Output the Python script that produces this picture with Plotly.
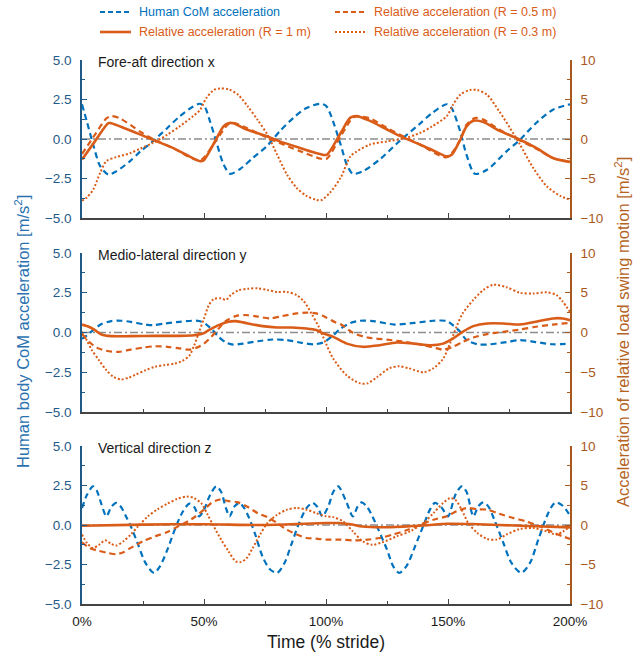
import plotly.graph_objects as go

# ---------------- data (time in % stride) ----------------
# Fore-aft direction x
x_com_x = [0, 2, 4.6, 7.4, 10.8, 14, 19.7, 24, 29, 35, 40, 45.6, 48.4, 50.4, 52.5, 55, 58, 60.7, 64.8, 70,
           75.7, 81, 86.6, 92, 97.5, 100, 102, 106, 108.5, 111, 115, 122, 130, 138, 143.5, 149.5, 151.5, 155,
           157.6, 161, 166, 174, 179.5, 186, 193, 200]
com_x = [2.2, 1.1, -0.36, -1.7, -2.25, -2.05, -1.4, -0.78, -0.15, 0.7, 1.43, 2.06, 2.23, 2.0, 1.1, -0.15, -1.6,
         -2.2, -1.9, -1.2, -0.46, 0.48, 1.33, 1.96, 2.23, 2.1, 1.5, -0.36, -1.6, -2.2, -2.05, -1.3, -0.15, 0.9,
         1.64, 2.2, 1.95, 0.48, -1.0, -2.2, -1.95, -0.78, -0.05, 1.0, 1.85, 2.2]

x_r1_x = [0, 5.3, 10.8, 12, 18, 24, 29, 37, 44, 48.4, 49.7, 53.8, 58, 60, 62, 67.5, 75.7, 81, 89, 97.5, 100.3,
          106, 110, 112.5, 118, 125, 131.6, 138.5, 145, 149.5, 151.5, 155, 157.6, 160.4, 164.5, 171, 178, 186,
          193, 200]
r1_x = [-2.6, -0.3, 2.0, 2.0, 1.3, 0.55, -0.1, -1.1, -2.2, -2.8, -2.75, -0.7, 1.6, 2.0, 2.0, 1.2, 0.34, -0.3,
        -1.1, -1.9, -2.0, 0.76, 2.7, 2.9, 2.3, 1.2, 0.2, -0.7, -1.6, -2.2, -2.0, -0.1, 1.6, 2.3, 2.15, 1.05,
        0.13, -1.1, -2.4, -2.9]

x_r05_x = [0, 5.3, 10, 12, 15.6, 24, 29, 37, 48.4, 53.8, 60, 62, 67.5, 75.7, 81, 89, 98, 100.3, 106, 111, 113,
           118, 125, 131.6, 138.5, 149.5, 155, 157.6, 161, 164.5, 171, 178, 186, 193, 200]
r05_x = [-1.9, 0.55, 2.6, 2.9, 2.6, 0.9, 0.0, -1.1, -2.7, -0.7, 1.9, 2.05, 1.4, 0.2, -0.5, -1.5, -2.5, -2.5,
         0.34, 2.7, 2.85, 2.6, 1.4, 0.34, -0.7, -2.3, -0.1, 1.8, 2.65, 2.45, 1.2, 0.05, -1.2, -2.4, -2.9]

x_r03_x = [0, 2, 4.6, 7.4, 10, 14, 19.7, 24, 29, 35, 40, 45.6, 48.4, 51, 54, 56.5, 60, 64, 68, 72, 76, 80, 84,
           88, 92, 96, 98, 101.6, 106, 110, 112.5, 118, 125, 131.6, 138.5, 143.5, 149.5, 152, 155, 159, 162,
           166, 171, 175.4, 179.5, 185, 190.5, 196, 200]
r03_x = [-7.8, -7.4, -6.4, -4.3, -2.8, -2.3, -1.8, -1.2, -0.5, 0.55, 1.6, 2.9, 3.7, 5.2, 6.2, 6.4, 6.3, 5.6,
         4.1, 2.4, 0.55, -2.0, -4.5, -6.2, -7.2, -7.7, -7.75, -6.8, -4.9, -2.2, -1.6, -0.7, -0.3, 0.04, 0.76,
         1.6, 2.9, 4.3, 5.6, 6.2, 6.2, 5.6, 3.5, 1.4, -0.7, -3.7, -6.0, -7.2, -7.7]

# Medio-lateral direction y
x_com_y = [0, 3, 5.3, 8, 12, 16, 20, 25, 29, 34, 40, 45, 48, 51, 53.5, 56, 59, 62, 66, 72, 78, 84, 90, 95, 99,
           103, 106, 110, 114, 119.4, 128, 136, 144, 149.5, 152, 155, 157.6, 162, 166, 174, 179.5, 186, 193, 200]
com_y = [-0.4, -0.06, 0.25, 0.53, 0.72, 0.74, 0.67, 0.53, 0.46, 0.57, 0.67, 0.74, 0.72, 0.5, 0.15, -0.27, -0.63,
         -0.76, -0.7, -0.55, -0.44, -0.48, -0.65, -0.74, -0.62, -0.17, 0.25, 0.6, 0.74, 0.72, 0.5, 0.6, 0.74,
         0.72, 0.46, 0.04, -0.48, -0.74, -0.76, -0.6, -0.48, -0.6, -0.74, -0.7]

x_r1_y = [0, 3, 5.3, 8, 12, 20, 30, 40, 46, 49, 52, 56, 60, 63, 68, 74, 80, 86, 92, 96, 99, 103, 108.5, 115,
          122, 129, 136, 143, 148, 152, 156, 160.4, 166, 172.7, 179.5, 186, 193, 197, 200]
r1_y = [1.0, 0.7, 0.3, -0.25, -0.46, -0.46, -0.42, -0.42, -0.34, -0.2, 0.3, 0.93, 1.35, 1.43, 1.14, 0.8, 0.63,
        0.63, 0.5, 0.3, -0.13, -0.55, -1.4, -1.8, -1.6, -1.26, -1.4, -1.6, -1.4, -0.76, 0.08, 0.8, 1.14, 1.14,
        1.0, 1.35, 1.77, 1.77, 1.55]

x_r05_y = [0, 3, 6, 10, 15, 20, 25, 30, 35, 40, 44, 47, 50, 53, 56, 59, 63, 67, 72, 77, 82, 88, 92, 96, 100,
           104, 106, 111, 117, 125, 133, 140, 145.6, 148, 152, 156, 160.4, 166, 172.7, 179.5, 186, 193, 200]
r05_y = [-0.2, -1.2, -1.9, -2.3, -2.44, -2.15, -1.9, -1.73, -1.8, -2.0, -2.15, -1.9, -1.4, -0.55, 0.5, 1.47,
         2.06, 2.2, 2.0, 1.77, 2.06, 2.4, 2.5, 2.4, 1.9, 1.26, 1.05, -0.04, -0.63, -0.9, -1.2, -1.6, -2.0, -2.15,
         -1.8, -1.2, -0.63, -0.2, 0.08, 0.38, 0.72, 1.0, 1.2]

x_r03_y = [0, 2, 4, 7, 10, 13, 16, 19, 22, 26, 30, 34, 38, 41, 44, 46, 48, 50, 52, 54, 57, 59, 61, 64, 68, 72,
           76, 80, 84, 88, 91, 94, 97, 100, 103, 108.5, 114, 117, 121, 126, 130, 134, 140, 144, 148, 150.8, 153.5,
           156, 160.4, 164.5, 168.6, 174, 179.5, 185, 190.5, 194.5, 197, 200]
r03_y = [0.08, -1.0, -2.2, -3.5, -4.75, -5.6, -5.9, -5.7, -5.3, -4.75, -4.3, -4.1, -3.9, -3.6, -2.9, -1.6, 0.08,
         1.77, 3.45, 4.2, 4.3, 4.1, 4.7, 5.3, 5.5, 5.56, 5.35, 5.1, 5.1, 4.7, 3.9, 2.4, 0.72, -1.4, -3.3, -5.4,
         -6.4, -6.4, -5.6, -4.5, -4.25, -4.5, -5.0, -4.5, -3.3, -1.4, 0.72, 2.4, 4.1, 5.35, 6.0, 5.7, 5.0, 4.9,
         5.05, 4.7, 3.9, 2.6]

# Vertical direction z
x_com_z = [0, 2, 4.5, 6, 8, 10, 12, 14, 16, 18, 20, 23, 26, 29.5, 32, 35, 38, 41, 44, 46, 48, 50, 52.5, 55, 57,
           59, 60.5, 62.5, 64.5, 66.5, 68.5, 71, 74, 77, 80, 83, 86, 89, 92, 94.5, 96.5, 98.5, 101, 103, 105,
           108.5, 111, 113, 114.6, 116.7, 119, 121.5, 125, 127.5, 130, 133, 136.5, 140, 142.6, 144.7, 147.4, 150,
           153, 155.6, 157.6, 160.4, 162.4, 164.5, 166.5, 169, 172.7, 176, 180, 183.6, 187, 190.5, 193, 194.5,
           197, 200]
com_z = [1.07, 1.9, 2.45, 2.2, 1.3, 0.55, 1.14, 1.4, 1.14, 0.55, -0.08, -1.24, -2.4, -3.03, -2.6, -1.56, -0.3,
         0.76, 1.35, 1.14, 0.55, 0.97, 1.9, 2.45, 2.1, 1.07, 0.55, 1.18, 1.4, 1.07, 0.44, -0.6, -2.0, -2.8, -3.03,
         -2.4, -1.14, 0.13, 1.07, 1.4, 1.14, 0.55, 1.2, 2.1, 2.45, 1.4, 0.55, 1.18, 1.43, 1.18, 0.55, -0.3,
         -1.56, -2.6, -3.03, -2.6, -1.35, 0.0, 0.97, 1.4, 1.1, 0.55, 1.9, 2.45, 2.1, 0.55, 1.18, 1.43, 1.18, 0.34,
         -1.14, -2.4, -3.03, -2.4, -0.93, 0.55, 1.28, 1.43, 1.22, 0.6]

x_r1_z = [0, 25, 50, 75, 100, 105, 110, 115, 125, 140, 150, 160, 180, 200]
r1_z = [-0.1, 0.05, 0.1, 0.0, 0.25, 0.25, 0.1, -0.2, -0.28, -0.05, 0.15, 0.12, -0.1, -0.3]

x_r05_z = [0, 3, 6, 10, 14, 17, 20, 25, 30, 35, 40, 45, 50, 53, 56, 60, 64, 68, 72, 76, 80, 84, 88, 92, 96, 100,
           106, 111, 117, 122, 127.5, 133, 138.5, 144, 149.5, 153.5, 157.6, 162, 166, 171, 176.8, 182, 187.7,
           193, 197, 200]
r05_z = [-2.2, -2.9, -3.2, -3.5, -3.7, -3.45, -2.9, -2.06, -1.43, -0.88, -0.08, 0.76, 1.94, 2.78, 3.2, 3.03,
         2.86, 2.27, 1.5, 1.0, 0.25, -0.6, -1.2, -1.64, -1.73, -1.85, -1.85, -1.94, -1.85, -1.64, -1.2, -0.67,
         0.0, 0.67, 1.1, 1.73, 2.15, 2.0, 1.94, 1.43, 0.88, 0.46, -0.17, -0.93, -1.43, -1.77]

x_r03_z = [0, 2, 4.5, 7, 9.5, 12, 14, 17, 20, 23, 27, 31, 35, 39, 43, 46, 49, 51.5, 54, 57, 60, 63, 65, 67.5,
           70, 73, 76, 80, 84, 88, 92, 96, 100, 103, 107, 111, 115, 119, 123, 129, 134.5, 140, 144, 148, 150.8,
           153, 155.6, 158.3, 162, 166, 170, 174, 179.5, 185, 190.5, 194.5, 200]
r03_z = [-1.2, -2.27, -2.9, -2.5, -1.94, -2.4, -2.6, -2.06, -1.2, -0.17, 1.1, 2.0, 2.7, 3.3, 3.6, 3.4, 2.7, 1.3,
         -0.17, -1.85, -3.3, -4.6, -4.7, -4.2, -2.9, -1.2, 0.25, 1.3, 1.94, 2.15, 1.94, 1.5, 1.1, 1.0, 0.46, -0.8,
         -2.06, -2.5, -2.2, -1.43, -0.8, 0.25, 1.5, 2.78, 3.4, 3.2, 1.94, 0.25, -1.0, -1.77, -1.85, -1.2, -0.5,
         -0.38, -0.8, -1.2, -0.2]

panel_titles = ["Fore-aft direction x", "Medio-lateral direction y", "Vertical direction z"]
x_ticks = [0, 50, 100, 150, 200]
x_tick_text = ["0%", "50%", "100%", "150%", "200%"]

# ---------------- styling ----------------
FONT = "Liberation Sans, Arial, sans-serif"
BLUE = "#0072BD"
ORANGE = "#D95C18"
LEFT_AX = "#1F5A87"
RIGHT_AX = "#A8581C"
LEFT_TITLE = "#2B72B0"
RIGHT_TITLE = "#B5641F"
X_AX = "#444444"

labels = {
    "com": "Human CoM acceleration",
    "r05": "Relative acceleration (R = 0.5 m)",
    "r1": "Relative acceleration (R = 1 m)",
    "r03": "Relative acceleration (R = 0.3 m)",
}
styles = {
    "com": dict(color=BLUE, width=2.2, dash="6px,4px"),
    "r05": dict(color=ORANGE, width=2.2, dash="6px,4px"),
    "r1": dict(color=ORANGE, width=2.6),
    "r03": dict(color=ORANGE, width=2.0, dash="2px,2px"),
}
# key legend: (series, column, row)
key_layout = [("com", 0, 0), ("r05", 1, 0), ("r1", 0, 1), ("r03", 1, 1)]

panels = [
    {"com": (x_com_x, com_x), "r05": (x_r05_x, r05_x), "r03": (x_r03_x, r03_x), "r1": (x_r1_x, r1_x)},
    {"com": (x_com_y, com_y), "r05": (x_r05_y, r05_y), "r03": (x_r03_y, r03_y), "r1": (x_r1_y, r1_y)},
    {"com": (x_com_z, com_z), "r05": (x_r05_z, r05_z), "r03": (x_r03_z, r03_z), "r1": (x_r1_z, r1_z)},
]

W, H = 643, 655
M_L, M_R, M_T, M_B = 82, 73, 60, 51
plot_w = W - M_L - M_R
plot_h = H - M_T - M_B


def px_x(px):
    """page pixel column -> paper x"""
    return (px - M_L) / plot_w


def px_y(py):
    """page pixel row (from top) -> paper y"""
    return (H - M_B - py) / plot_h


# panel pixel extents (top, bottom) from the top of the page
panel_px = [(60, 218), (253, 412), (446, 604)]
domains = [[max(0, px_y(b)), min(1, px_y(t))] for t, b in panel_px]

fig = go.Figure()
layout = {}
annotations = []
shapes = []

for i, series in enumerate(panels):
    n = i + 1
    xa = "x" if n == 1 else f"x{n}"
    yl_idx = 2 * i + 1
    yr_idx = 2 * i + 2
    yl = "y" if yl_idx == 1 else f"y{yl_idx}"
    yr = f"y{yr_idx}"

    for key in ["com", "r05", "r03", "r1"]:
        xs, ys = series[key]
        fig.add_trace(go.Scatter(
            x=xs, y=ys, mode="lines", line=dict(shape="spline", smoothing=0.8, **styles[key]),
            name=labels[key], showlegend=False,
            xaxis=xa, yaxis=(yl if key == "com" else yr), hoverinfo="skip",
        ))

    xkey = "xaxis" if n == 1 else f"xaxis{n}"
    layout[xkey] = dict(
        domain=[0, 1], anchor=yl, range=[0, 200], showgrid=False, zeroline=False,
        showline=True, linecolor=X_AX, linewidth=1.5,
        ticks="inside", ticklen=5, tickwidth=1.2, tickcolor=X_AX,
        tickvals=x_ticks, ticktext=x_tick_text, showticklabels=(n == 3),
        tickfont=dict(family=FONT, size=13.5, color="#1a1a1a"), ticklabelstandoff=4,
        minor=dict(ticks="inside", ticklen=3, tickcolor=X_AX, tickvals=[25, 75, 125, 175]),
    )
    lkey = "yaxis" if yl_idx == 1 else f"yaxis{yl_idx}"
    layout[lkey] = dict(
        domain=domains[i], anchor=xa, range=[-5, 5], showgrid=False, zeroline=False,
        showline=True, linecolor=LEFT_AX, linewidth=1.5,
        ticks="inside", ticklen=5, tickwidth=1.2, tickcolor=LEFT_AX,
        tickvals=[-5, -2.5, 0, 2.5, 5], tickformat=".1f",
        tickfont=dict(family=FONT, size=13.5, color=LEFT_AX), ticklabelstandoff=6,
        minor=dict(ticks="inside", ticklen=3, tickcolor=LEFT_AX, dtick=1.25),
    )
    layout[f"yaxis{yr_idx}"] = dict(
        overlaying=yl, anchor=xa, side="right", range=[-10, 10], showgrid=False, zeroline=False,
        showline=True, linecolor=RIGHT_AX, linewidth=1.5,
        ticks="inside", ticklen=5, tickwidth=1.2, tickcolor=RIGHT_AX,
        tickvals=[-10, -5, 0, 5, 10],
        tickfont=dict(family=FONT, size=13.5, color=RIGHT_AX), ticklabelstandoff=6,
        minor=dict(ticks="inside", ticklen=3, tickcolor=RIGHT_AX, dtick=2.5),
    )

    # zero reference line
    shapes.append(dict(type="line", xref=xa, yref=yl, x0=0, x1=200, y0=0, y1=0, layer="below",
                       line=dict(color="#8c8c8c", width=1.3, dash="8px,3px,2px,3px")))

    annotations.append(dict(
        text=panel_titles[i], xref="paper", yref=f"{yl} domain", x=px_x(96), y=1,
        xanchor="left", yanchor="middle", yshift=-2, showarrow=False,
        font=dict(family=FONT, size=14, color="#1a1a1a"),
    ))

# key above the panels: two columns, two rows
col_px = [100, 335]
row_px = [12, 32]
for key, col, row in key_layout:
    x0 = col_px[col]
    yy = px_y(row_px[row])
    st = styles[key]
    sample_dash = {"6px,4px": "5px,3px"}.get(st.get("dash"), st.get("dash", "solid"))
    shapes.append(dict(type="line", xref="paper", yref="paper", x0=px_x(x0), x1=px_x(x0 + 31),
                       y0=yy, y1=yy, line=dict(color=st["color"], width=st["width"], dash=sample_dash)))
    annotations.append(dict(text=labels[key], xref="paper", yref="paper", x=px_x(x0 + 37), y=yy,
                            xanchor="left", yanchor="middle", showarrow=False,
                            font=dict(family=FONT, size=12.5, color=st["color"])))

annotations += [
    dict(text="Human body CoM acceleration [m/s<sup>2</sup>]", textangle=-90, xref="paper", yref="paper",
         x=px_x(22), y=0.5, xanchor="center", yanchor="middle", showarrow=False,
         font=dict(family=FONT, size=16.5, color=LEFT_TITLE)),
    dict(text="Acceleration of relative load swing motion [m/s<sup>2</sup>]", textangle=-90, xref="paper",
         yref="paper", x=px_x(622), y=0.5, xanchor="center", yanchor="middle",
         showarrow=False, font=dict(family=FONT, size=16.5, color=RIGHT_TITLE)),
    dict(text="Time (% stride)", xref="paper", yref="paper", x=0.5, y=px_y(642), xanchor="center",
         yanchor="middle", showarrow=False, font=dict(family=FONT, size=17.5, color="#1a1a1a")),
]

fig.update_layout(
    width=W, height=H, margin=dict(l=M_L, r=M_R, t=M_T, b=M_B),
    paper_bgcolor="white", plot_bgcolor="white",
    font=dict(family=FONT), showlegend=False,
    annotations=annotations, shapes=shapes,
    **layout,
)

fig.write_html("out.html")
